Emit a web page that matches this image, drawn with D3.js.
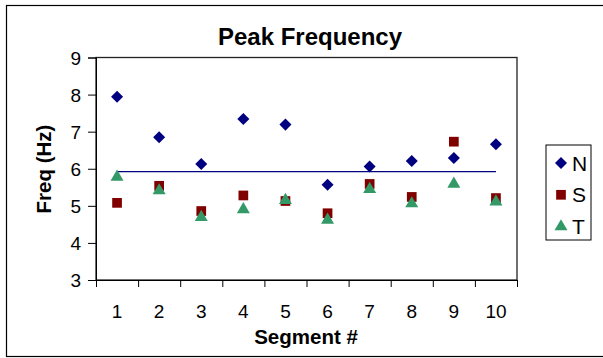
<!DOCTYPE html>
<html>
<head>
<meta charset="utf-8">
<script src="https://cdn.jsdelivr.net/npm/d3@7"></script>
<style>
  body { margin: 0; background: #fff; }
  svg text { font-family: "Liberation Sans", Arial, sans-serif; fill: #000; }
</style>
</head>
<body>
<div id="js-svg-container"></div>
<script>
// values
let segments = ['1', '2', '3', '4', '5', '6', '7', '8', '9', '10'];
let nValues = [7.94, 6.85, 6.13, 7.34, 7.19, 5.57, 6.06, 6.21, 6.29, 6.66];
let sValues = [5.08, 5.54, 4.86, 5.28, 5.13, 4.80, 5.59, 5.24, 6.73, 5.21];
let tValues = [5.78, 5.41, 4.69, 4.90, 5.15, 4.62, 5.45, 5.06, 5.59, 5.11];
let meanValues = [5.92, 5.92, 5.92, 5.92, 5.92, 5.92, 5.92, 5.92, 5.92, 5.92];
let yTicks = [3, 4, 5, 6, 7, 8, 9];

let width = 603;
let height = 358;
let plot = { left: 96, right: 517, top: 57.5, bottom: 280 };

let colors = { N: '#000080', S: '#800000', T: '#339966' };

let svg = d3.select('#js-svg-container')
    .append('svg')
    .attr('width', width)
    .attr('height', height);

// outer chart frame
svg.append('rect')
    .attr('x', 6.5).attr('y', 5.5)
    .attr('width', 640).attr('height', 351)
    .attr('fill', '#fff')
    .attr('stroke', '#000')
    .attr('stroke-width', 1.2);

let x = d3.scaleBand()
    .domain(segments)
    .range([plot.left, plot.right]);

let xEdges = d3.scaleLinear()
    .domain([0, segments.length])
    .range([plot.left, plot.right]);

let y = d3.scaleLinear()
    .domain([3, 9])
    .range([plot.bottom, plot.top]);

// plot area border
svg.append('rect')
    .attr('x', plot.left).attr('y', plot.top)
    .attr('width', plot.right - plot.left)
    .attr('height', plot.bottom - plot.top)
    .attr('fill', 'none')
    .attr('stroke', '#222')
    .attr('stroke-width', 1.3);

// y axis
let axisY = svg.append('g')
    .attr('transform', 'translate(' + plot.left + ',0)')
    .call(d3.axisLeft(y).tickValues(yTicks).tickSize(8).tickPadding(7).tickFormat(d3.format('d')));
axisY.selectAll('text').attr('font-size', 19).attr('dy', '0.35em');
axisY.selectAll('line, path').attr('stroke', '#000');

// x axis: tick marks on category edges, labels centred
let axisXMarks = svg.append('g')
    .attr('transform', 'translate(0,' + plot.bottom + ')')
    .call(d3.axisBottom(xEdges).ticks(segments.length).tickSize(7).tickFormat(''));
axisXMarks.selectAll('line, path').attr('stroke', '#000');

let axisXLabels = svg.append('g')
    .attr('transform', 'translate(0,' + plot.bottom + ')')
    .call(d3.axisBottom(x).tickSize(0).tickPadding(25));
axisXLabels.select('.domain').remove();
axisXLabels.selectAll('text').attr('font-size', 19);

// titles
svg.append('text')
    .attr('x', 310).attr('y', 45)
    .attr('text-anchor', 'middle')
    .attr('font-size', 24)
    .attr('font-weight', 'bold')
    .text('Peak Frequency');

svg.append('text')
    .attr('x', 306).attr('y', 344)
    .attr('text-anchor', 'middle')
    .attr('font-size', 20.5)
    .attr('font-weight', 'bold')
    .text('Segment #');

svg.append('text')
    .attr('transform', 'translate(51,169) rotate(-90)')
    .attr('text-anchor', 'middle')
    .attr('font-size', 20.5)
    .attr('font-weight', 'bold')
    .text('Freq (Hz)');

// constant reference line
let line = d3.line()
    .x((d, i) => x(segments[i]) + x.bandwidth() / 2)
    .y(d => y(d));

svg.append('path')
    .datum(meanValues)
    .attr('d', line)
    .attr('fill', 'none')
    .attr('stroke', '#000080')
    .attr('stroke-width', 1.3);

let symbols = {
    N: d3.symbol().type(d3.symbolDiamond2).size(92),
    S: d3.symbol().type(d3.symbolSquare2).size(120),
    T: d3.symbol().type(d3.symbolTriangle2).size(120)
};

let series = [
    { name: 'S', values: sValues },
    { name: 'T', values: tValues },
    { name: 'N', values: nValues }
];

series.forEach(s => {
    svg.append('g')
        .selectAll('path')
        .data(s.values)
        .enter()
        .append('path')
        .attr('transform', (d, i) => 'translate(' + (x(segments[i]) + x.bandwidth() / 2) + ',' + y(d) + ')')
        .attr('d', symbols[s.name]())
        .attr('fill', colors[s.name]);
});

// legend
let legend = svg.append('g');
legend.append('rect')
    .attr('x', 546).attr('y', 145)
    .attr('width', 45).attr('height', 95)
    .attr('fill', '#fff')
    .attr('stroke', '#000')
    .attr('stroke-width', 1);

['N', 'S', 'T'].forEach((name, i) => {
    let cy = 163 + i * 31.8;
    legend.append('path')
        .attr('transform', 'translate(561,' + cy + ')')
        .attr('d', symbols[name]())
        .attr('fill', colors[name]);
    legend.append('text')
        .attr('x', 572).attr('y', cy)
        .attr('dy', '0.36em')
        .attr('font-size', 21)
        .text(name);
});
</script>
</body>
</html>
